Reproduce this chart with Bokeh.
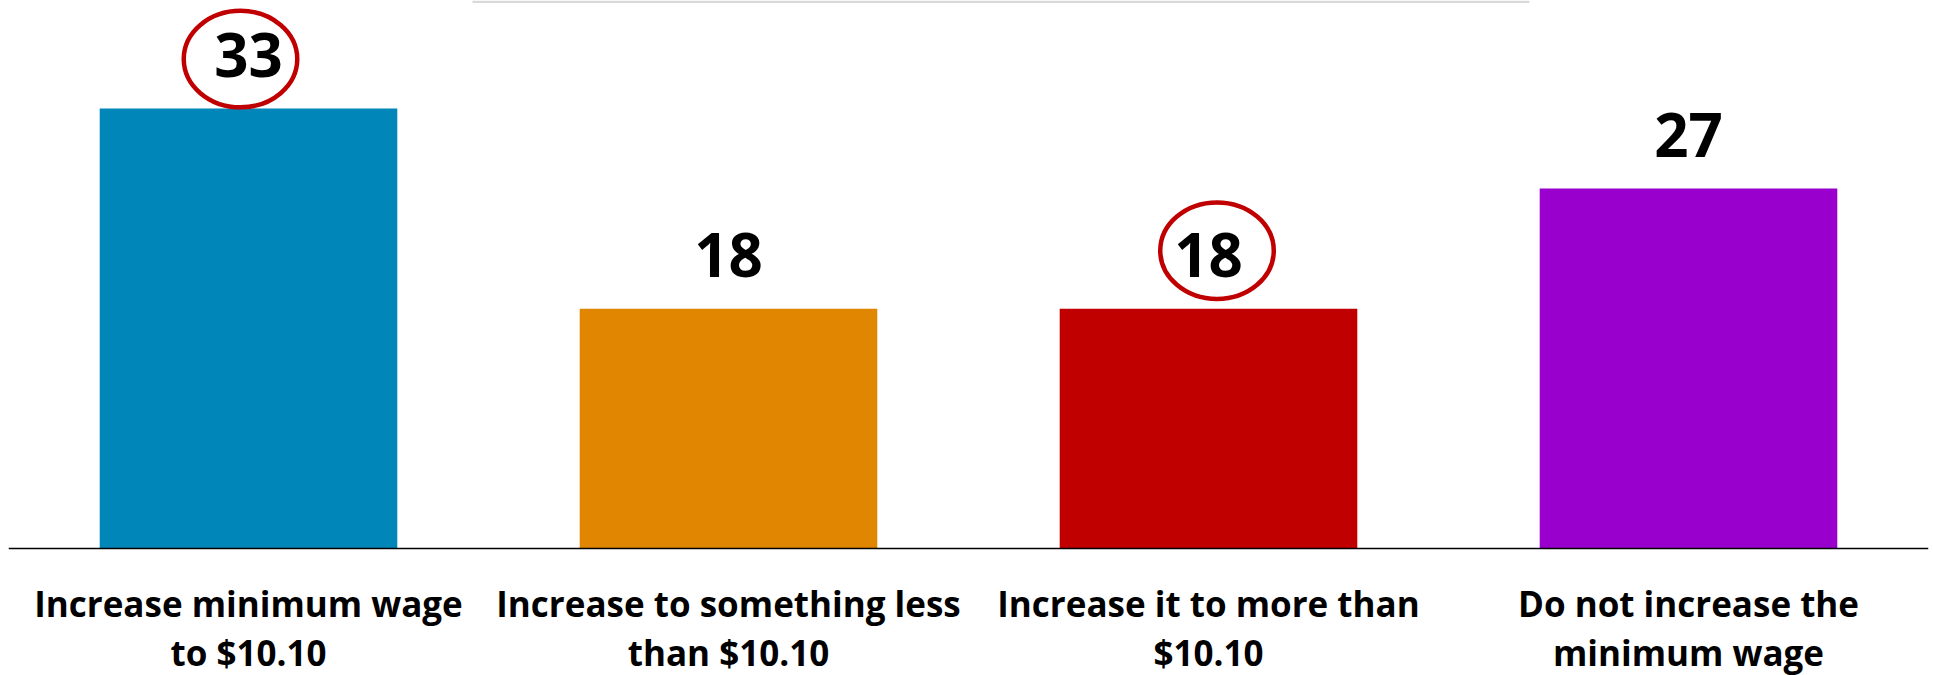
from bokeh.plotting import figure
from bokeh.models import Range1d, FixedTicker, ColumnDataSource, BoxAnnotation
from bokeh.core.properties import value
from bokeh.embed import file_html
from bokeh.resources import INLINE

# ---- data ----
categories = [
    "Increase minimum wage\nto $10.10",
    "Increase to something less\nthan $10.10",
    "Increase it to more than\n$10.10",
    "Do not increase the\nminimum wage",
]
values = [33, 18, 18, 27]
value_labels = ["33", "18", "18", "27"]
highlighted = [0, 2]  # bars whose value label is circled

# ---- styles / layout ----
bar_colors = ["#0086B8", "#E08600", "#C00000", "#9A00CD"]
FONT = "Open Sans"
W, H = 1933, 675
BORDER_L, BORDER_R = 8, 5
FRAME_W = W - BORDER_L - BORDER_R
Y_TOP, Y_BOTTOM = 41.1, -9.5
PX_PER_UNIT = H / (Y_TOP - Y_BOTTOM)
STEP_PX = FRAME_W / len(categories)
LABEL_GAP_PX = 54

xs = list(range(len(categories)))
label_y = [v + LABEL_GAP_PX / PX_PER_UNIT for v in values]
src = ColumnDataSource(dict(x=xs, value=values, label=value_labels, label_y=label_y, color=bar_colors))

p = figure(
    width=W, height=H,
    x_range=Range1d(-0.5, len(categories) - 0.5),
    y_range=Range1d(Y_BOTTOM, Y_TOP),
    output_backend="svg", toolbar_location=None, y_axis_location=None,
    min_border_left=BORDER_L, min_border_right=BORDER_R, min_border_top=0, min_border_bottom=0,
)
p.outline_line_color = None
p.xgrid.visible = False
p.ygrid.visible = False
p.background_fill_color = "white"
p.border_fill_color = "white"

p.vbar(x="x", top="value", bottom=0, width=0.62, fill_color="color", line_color=None, source=src)

p.text(x="x", y="label_y", text="label",
       text_align="center", text_baseline="alphabetic",
       text_font=value(FONT), text_font_style="bold", text_font_size="60px",
       text_color="#000000", source=src)

# red circles around highlighted labels
dx_px = {0: -8, 2: 8.5}
dy_px = {0: 49.5, 2: 58}
hx = [i + dx_px[i] / STEP_PX for i in highlighted]
hy = [values[i] + dy_px[i] / PX_PER_UNIT for i in highlighted]
p.ellipse(x=hx, y=hy, width=113.5, height=96.5, width_units="screen", height_units="screen",
          fill_color=None, line_color="#C00000", line_width=4.5)

# thin gray rule at the top
p.add_layout(BoxAnnotation(left=472, right=1529, top=0, bottom=2.5,
                           left_units="canvas", right_units="canvas",
                           top_units="canvas", bottom_units="canvas",
                           fill_color="#D9D9D9", fill_alpha=1.0, line_color=None))

ax = p.xaxis[0]
ax.fixed_location = 0
ax.ticker = FixedTicker(ticks=xs)
ax.major_label_overrides = {i: c for i, c in zip(xs, categories)}
ax.major_tick_out = 0
ax.major_tick_in = 0
ax.minor_tick_out = 0
ax.minor_tick_in = 0
ax.axis_line_color = "#000000"
ax.axis_line_width = 1.5
ax.major_label_standoff = 31
ax.major_label_text_font = FONT
ax.major_label_text_font_style = "bold"
ax.major_label_text_font_size = "35px"
ax.major_label_text_color = "#000000"
ax.major_label_text_line_height = 1.05

open("out.html", "w").write(file_html(p, INLINE))
